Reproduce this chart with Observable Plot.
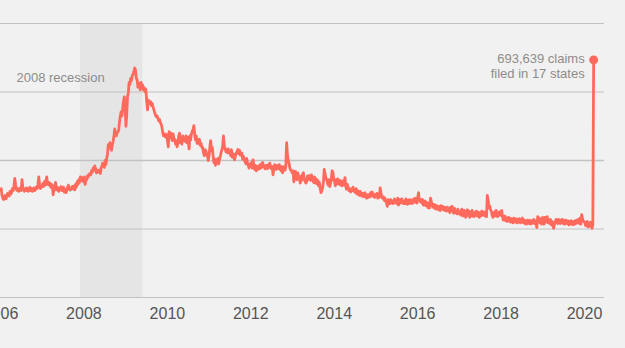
<!DOCTYPE html>
<html><head><meta charset="utf-8">
<script src="https://cdn.jsdelivr.net/npm/d3@7"></script>
<script src="https://cdn.jsdelivr.net/npm/@observablehq/plot@0.6"></script>
<style>
html,body{margin:0;padding:0;background:#f1f1f1;}
#chart svg{display:block;}
</style></head><body><div id="chart"></div>
<script>
// Weekly initial jobless claims (thousands), one value per Saturday of each year
const claims2006 = [318,298,290,286, 292,298,288,296, 304,300,296,310,302, 306,318,312,325, 348,330,316,312, 318,310,314,320,312, 344,322,316,310, 318,312,320,314,310, 316,322,312,318, 310,314,320,312,316, 322,318,330,352, 330,318,322,326];
const claims2007 = [332,324,338,328, 340,352,330,336, 328,334,322,330,326, 300,318,326,336, 314,322,316,310, 320,316,324,312,318, 322,308,316,306, 312,322,328,318,314, 320,316,324,318, 326,314,330,322, 338,330,344,336,352, 342,350,346,338];
const claims2008 = [352,330,348,344, 356,352,360,362, 358,370,366,378,372, 384,376,364,372, 366,372,368,362,378, 384,392,386,380, 400,388,406,420, 446,440,452,436,430, 446,456,470,492, 478,472,480,484, 488,514,530,542,530, 552,574,586,560];
const claims2009 = [500,532,586,598,628, 622,640,634,648, 652,660,670,664, 640,636,614,626, 618,606,628,612,620, 606,612,600,608, 572,548,576,568, 566,572,560,566,556, 548,540,532,528, 530,524,516,520,512, 506,498,482,472, 478,470,468,476];
const claims2010 = [456,440,484,466,480, 470,458,478,464, 462,448,458,440, 450,472,480,452,462, 448,472,458,464, 456,472,452,468, 454,434,472,460,478, 486,490,502,476, 460,472,450,460, 450,462,444,450,438, 438,422,414,432, 428,418,414,400];
const claims2011 = [414,440,458,428,438, 416,394,404,386, 402,394,406,390, 402,412,422,430,442, 472,444,434,426, 432,422,434,424, 424,414,432,410, 420,408,402,414,422, 426,432,420,430,416, 416,422,404,412, 400,398,390,406, 394,386,378,388,392];
const claims2012 = [394,378,402,386, 374,386,370,382, 374,384,376,388,378, 390,394,382,380, 376,386,378,376, 388,380,392,382,376, 382,358,376,388, 376,374,386,378, 376,388,374,370,382, 364,382,374,372, 382,452,418,400, 392,378,372,370,364];
const claims2013 = [370,338,354,368, 360,344,364,350, 346,334,354,342,360, 364,346,340,334, 338,354,344,356, 346,342,358,346,340, 336,352,334,346, 332,342,326,336,318, 306,312,320,336, 374,362,350,344, 336,328,344,324,334, 350,370,364,342];
const claims2014 = [338,326,344,332, 346,336,330,342, 336,326,340,328, 338,350,324,316,330, 320,312,318,308,316, 312,322,310,316, 306,318,302,312, 306,298,310,304,296, 304,294,300,306, 296,290,300,292, 300,294,306,296,308, 296,302,292,300];
const claims2015 = [298,304,290,298,292, 320,304,294,290, 294,284,290,280, 276,266,286,280, 274,286,276,282,274, 280,288,276,282, 274,290,270,280, 286,276,288,278,274, 282,274,288,278, 272,284,274,286,276, 284,274,286,288, 278,290,282,276];
const claims2016 = [292,306,284,280,286, 276,286,270,278, 282,268,278,266, 262,276,262,290,280, 272,264,272,260, 270,258,268,260, 256,266,254,268,258, 266,256,264,254, 262,252,264,254, 258,248,264,252,266, 254,246,260,248, 254,244,258,248,244];
const claims2017 = [252,240,258,244, 238,254,242,234, 250,256,240,252, 234,250,238,254,242, 236,248,240,252, 238,250,240,234, 248,238,252,242,240, 250,238,248,236, 298,284,262,268,256, 252,240,234,246, 250,238,254,242, 236,246,250,240,252];
const claims2018 = [254,236,226,236, 238,224,232,222, 234,224,232,220,230, 228,218,232,220, 226,230,218,228, 220,230,218,228,220, 232,218,226,216, 224,214,226,218, 216,226,214,224,216, 222,228,216,224, 214,204,236,224, 232,218,228,214,234];
const claims2019 = [230,214,234,220, 228,236,218,226, 216,228,212,222,210, 202,214,222,228, 220,216,228,218, 216,226,218,228,216, 224,214,226,218, 216,224,212,222,214, 224,216,212,222, 214,224,216,226, 218,228,216,232,214, 242,232,224,220];
const claims2020 = [220,210,212,222, 206,216,208,220,212, 202,214,693.639];

const claimYears = [2006,2007,2008,2009,2010,2011,2012,2013,2014,2015,2016,2017,2018,2019,2020];
const claimsByYear = [claims2006,claims2007,claims2008,claims2009,claims2010,claims2011,claims2012,claims2013,claims2014,claims2015,claims2016,claims2017,claims2018,claims2019,claims2020];

const recessionStart = ["2007-12-01"];
const recessionEnd = ["2009-06-01"];
const recessionLabel = ["2008 recession"];
const tickYears = [2006,2008,2010,2012,2014,2016,2018,2020];
const gridValues = [0,200000,400000,600000,800000];
const endNoteSuffix = "claims";
const endNoteLine2 = "filed in 17 states";
const xDomain = ["2006-01-01","2020-06-24"];

const lineColor = "#ff6a5c";
const textGray = "#8c8c8c";

function firstSaturday(year){
  const d = new Date(Date.UTC(year,0,1));
  const add = (6 - d.getUTCDay() + 7) % 7;
  return Date.UTC(year,0,1+add);
}
const series = [];
claimYears.forEach((yr,k)=>{
  const s = firstSaturday(yr);
  claimsByYear[k].forEach((v,i)=>{
    series.push({date:new Date(s + i*7*86400000), value: Math.round(v*1000)});
  });
});
const last = series[series.length-1];
const recessions = recessionStart.map((s,i)=>({start:new Date(s+"T00:00Z"), end:new Date(recessionEnd[i]+"T00:00Z"), label:recessionLabel[i]}));

const chart = Plot.plot({
  width:625, height:348,
  marginLeft:0, marginRight:21, marginTop:23, marginBottom:51,
  style:{background:"#f1f1f1", fontFamily:"'Helvetica Neue', Helvetica, 'Liberation Sans', Arial, sans-serif", overflow:"hidden"},
  x:{type:"utc", domain:xDomain.map(s=>new Date(s+"T00:00Z"))},
  y:{domain:[0,800000], axis:null},
  marks:[
    Plot.rect(recessions,{x1:"start", x2:"end", fill:"#e5e5e5"}),
    Plot.ruleY(gridValues,{stroke:"#c2c2c2", strokeWidth:d=>d===400000?1.6:1}),
    Plot.axisX({ticks:tickYears.map(y=>new Date(Date.UTC(y,0,1))), tickFormat:d3.utcFormat("%Y"), tickSize:0, tickPadding:10, label:null, fontSize:16, fill:"#555"}),
    Plot.text(recessions,{frameAnchor:"top-left", text:"label", dx:16, dy:49, fontSize:13, fill:textGray, textAnchor:"start"}),
    Plot.line(series,{x:"date", y:"value", stroke:lineColor, strokeWidth:2.8, strokeLinejoin:"round"}),
    Plot.dot([last],{x:"date", y:"value", r:4.5, fill:lineColor, stroke:null}),
    Plot.text([last],{x:"date", y:"value", text:d=>`${d3.format(",")(d.value)} ${endNoteSuffix}\n${endNoteLine2}`, textAnchor:"end", lineAnchor:"top", dx:-9, dy:-7.5, lineHeight:1.14, fontSize:13, fill:textGray})
  ]
});
document.getElementById("chart").append(chart);
</script></body></html>
